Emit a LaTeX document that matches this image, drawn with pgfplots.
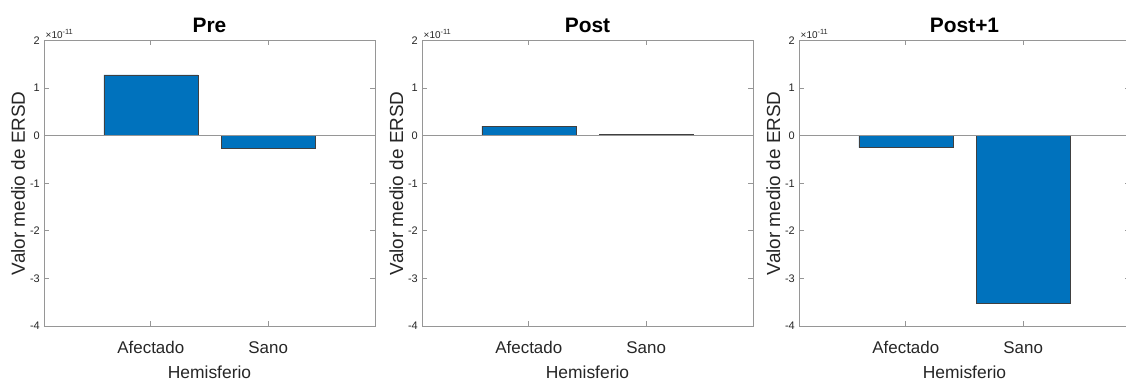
\documentclass[border=0pt]{standalone}
\usepackage{fontspec}
\setmainfont{Liberation Sans}
\usepackage{pgfplots}
\pgfplotsset{compat=1.18}
\definecolor{matblue}{RGB}{0,114,189}
\definecolor{axgray}{RGB}{150,150,150}
\definecolor{txtgray}{RGB}{38,38,38}
\pgfplotsset{
  mypanel/.style={
    scale only axis,
    clip=false,
    width=331bp, height=285.5bp,
    anchor=south west,
    xmin=0.09, xmax=2.91,
    ymin=-4, ymax=2,
    xtick={1,2},
    xticklabels={Afectado,Sano},
    ytick={-4,-3,-2,-1,0,1,2},
    /pgf/number format/assume math mode=true,
    tick align=inside,
    major tick length=5bp,
    axis line style={axgray, line width=0.8bp},
    every tick/.style={axgray, line width=0.8bp},
    yticklabel style={font=\fontsize{11}{13}\selectfont, text=txtgray, inner sep=0pt, xshift=-4bp, anchor=east},
    xticklabel style={font=\fontsize{17}{19}\selectfont, text=txtgray, anchor=base, yshift=-27bp},
    xlabel={Hemisferio},
    ylabel={Valor medio de ERSD},
    xlabel style={font=\fontsize{17.5}{19}\selectfont, text=txtgray, at={(axis description cs:0.5,0)}, anchor=base, yshift=-52.5bp},
    ylabel style={font=\fontsize{19}{21}\selectfont, text=txtgray, at={(axis description cs:-0.0574,0.5)}, anchor=base},
    title style={font=\fontsize{21}{23}\selectfont\bfseries, text=black, at={(axis description cs:0.5,1)}, anchor=base, yshift=1.7bp, inner sep=0pt},
  },
  mybar/.style={ybar, bar width=0.8, fill=matblue, draw=black!75, line width=0.5bp},
}
\newcommand{\scalelbl}{\node[font=\fontsize{10}{11}\selectfont, text=txtgray, anchor=base west, inner sep=0pt, xshift=1.5bp, yshift=2bp] at (rel axis cs:0,1) {×10\raisebox{4bp}{\fontsize{7.5}{8}\selectfont -11}};}
\begin{document}
\begin{tikzpicture}
% Pre
\begin{axis}[mypanel, at={(44bp,55bp)}, title={Pre}]
\addplot[mybar] coordinates {(1,1.28) (2,-0.27)};
\draw[axgray, line width=0.8bp] (axis cs:0.09,0) -- (axis cs:2.91,0);
\scalelbl
\end{axis}
% Post
\begin{axis}[mypanel, at={(422bp,55bp)}, title={Post}]
\addplot[mybar] coordinates {(1,0.20) (2,0.02)};
\draw[axgray, line width=0.8bp] (axis cs:0.09,0) -- (axis cs:2.91,0);
\scalelbl
\end{axis}
% Post+1
\begin{axis}[mypanel, at={(799bp,55bp)}, title={Post+1}]
\addplot[mybar] coordinates {(1,-0.25) (2,-3.53)};
\draw[axgray, line width=0.8bp] (axis cs:0.09,0) -- (axis cs:2.91,0);
\scalelbl
\end{axis}
\pgfresetboundingbox
\useasboundingbox (0bp,0bp) rectangle (1126bp,381bp);
\end{tikzpicture}
\end{document}
